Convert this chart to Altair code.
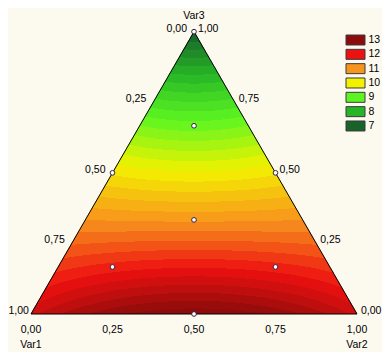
import numpy as np
import pandas as pd
import altair as alt

alt.data_transformers.disable_max_rows()

# ---- values ----
# design points (mixture proportions) and the response read at each of them
var1 = [1.0, 0.0, 0.0, 0.5, 0.5, 0.0, 2/3, 1/6, 1/6, 1/3]
var2 = [0.0, 1.0, 0.0, 0.5, 0.0, 0.5, 1/6, 2/3, 1/6, 1/3]
var3 = [0.0, 0.0, 1.0, 0.0, 0.5, 0.5, 1/6, 1/6, 2/3, 1/3]
response = [12.3, 12.3, 7.0, 13.1, 10.2, 10.2, 11.95, 11.95, 8.9, 11.0]
marker_shown = [False, False, True, True, True, True, True, True, True, True]

legend_levels = [13, 12, 11, 10, 9, 8, 7]
legend_colors = ["#8E0B0B", "#EE1111", "#F7941D", "#F2F200", "#5CF522", "#26B526", "#17632A"]
tick_values = [0.0, 0.25, 0.5, 0.75, 1.0]
tick_labels = ["0,00", "0,25", "0,50", "0,75", "1,00"]
axis_titles = ["Var1", "Var2", "Var3"]
band_step = 0.2

# ---- special cubic mixture model fitted to the design points ----
x1 = np.array(var1); x2 = np.array(var2); x3 = np.array(var3)
M = np.column_stack([x1, x2, x3, x1*x2, x1*x3, x2*x3, x1*x2*x3])
coef, *_ = np.linalg.lstsq(M, np.array(response), rcond=None)

def model(a, b, c):
    return (coef[0]*a + coef[1]*b + coef[2]*c + coef[3]*a*b + coef[4]*a*c
            + coef[5]*b*c + coef[6]*a*b*c)

S3 = np.sqrt(3.0)
H = S3 / 2
PX = 1 / 326.0

def to_uv(a, b, c):
    return b + c / 2, c * H

# ---- banded fill, as merged horizontal runs ----
cells = []
nrows = int(np.ceil(H / PX))
for j in range(nrows):
    v0 = j * PX
    v1 = min((j + 1) * PX, H)
    vc = (v0 + v1) / 2
    c = vc / H
    uL = vc / S3
    uR = 1 - vc / S3
    n = max(2, int((uR - uL) / (PX / 2)) + 1)
    us = np.linspace(uL, uR, n)
    b = us - c / 2
    a = 1 - b - c
    f = model(a, b, c)
    band = np.floor(f / band_step)
    start = 0
    top = v1 if j == nrows - 1 else v1 + 0.6 * PX
    for k in range(1, n + 1):
        if k == n or band[k] != band[start]:
            u_start = uL if start == 0 else (us[start - 1] + us[start]) / 2
            u_end = uR if k == n else (us[k - 1] + us[k]) / 2 + 0.6 * PX
            cells.append(dict(u=u_start, u2=u_end, v=v0, v2=top,
                              val=(band[start] + 0.5) * band_step))
            start = k
cells = pd.DataFrame(cells)

W, HH = 374, 344
xs = alt.Scale(domain=[-23 / 326, (W - 23) / 326], nice=False, zero=False)
ys = alt.Scale(domain=[-(HH - 306) / 326, 306 / 326], nice=False, zero=False)
cs = alt.Scale(domain=sorted(legend_levels),
               range=list(reversed(legend_colors)), clamp=True, interpolate="rgb")

fill = alt.Chart(cells).mark_rect(strokeWidth=0).encode(
    x=alt.X("u:Q", scale=xs, axis=None), x2="u2:Q",
    y=alt.Y("v:Q", scale=ys, axis=None), y2="v2:Q",
    color=alt.Color("val:Q", scale=cs, legend=None),
)

# triangle outline
verts = [(1, 0, 0), (0, 1, 0), (0, 0, 1), (1, 0, 0)]
outline = pd.DataFrame([dict(u=to_uv(*p)[0], v=to_uv(*p)[1], o=i) for i, p in enumerate(verts)])
edge = alt.Chart(outline).mark_line(color="black", strokeWidth=1).encode(
    x=alt.X("u:Q", scale=xs, axis=None), y=alt.Y("v:Q", scale=ys, axis=None), order="o:Q")

# design point markers
pts = pd.DataFrame([dict(u=to_uv(a, b, c)[0], v=to_uv(a, b, c)[1])
                    for a, b, c, s in zip(var1, var2, var3, marker_shown) if s])
markers = alt.Chart(pts).mark_point(shape="circle", filled=False, fill="white",
                                    fillOpacity=1, stroke="#33204A", strokeWidth=1,
                                    size=22, opacity=1).encode(
    x=alt.X("u:Q", scale=xs, axis=None), y=alt.Y("v:Q", scale=ys, axis=None))

FONT = "Liberation Sans"
FS = 10.5

def text_layer(df, align, dx, dy):
    return alt.Chart(df).mark_text(align=align, baseline="middle", dx=dx, dy=dy,
                                   font=FONT, fontSize=FS, color="black").encode(
        x=alt.X("u:Q", scale=xs, axis=None), y=alt.Y("v:Q", scale=ys, axis=None), text="t:N")

left = pd.DataFrame([dict(u=to_uv(t, 0, 1 - t)[0], v=to_uv(t, 0, 1 - t)[1], t=l)
                     for t, l in zip(tick_values[:-1], tick_labels[:-1])])
left_end = pd.DataFrame([dict(u=to_uv(1, 0, 0)[0], v=0.0, t=tick_labels[-1])])
right = pd.DataFrame([dict(u=to_uv(0, 1 - t, t)[0], v=to_uv(0, 1 - t, t)[1], t=l)
                      for t, l in zip(tick_values, tick_labels)])
bottom = pd.DataFrame([dict(u=to_uv(1 - t, t, 0)[0], v=to_uv(1 - t, t, 0)[1], t=l)
                       for t, l in zip(tick_values, tick_labels)])
tb = pd.DataFrame([dict(u=to_uv(1, 0, 0)[0], v=0.0, t=axis_titles[0]),
                   dict(u=to_uv(0, 1, 0)[0], v=0.0, t=axis_titles[1])])
tt = pd.DataFrame([dict(u=to_uv(0, 0, 1)[0], v=H, t=axis_titles[2])])

labels = (text_layer(left, "right", -7, -3) + text_layer(left_end, "left", -22.5, -3)
          + text_layer(right, "left", 4, -3)
          + text_layer(bottom, "center", 0, 16) + text_layer(tb, "center", 0, 31)
          + text_layer(tt, "center", 0, -16))

# legend (layout in page pixels converted to the plot's units)
def pu(px):
    return (px - 31) / 326.0

def pv(py):
    return (314 - py) / 326.0

leg = pd.DataFrame([dict(u=pu(346), u2=pu(365), v=pv(40 + 14.33 * i + 5), v2=pv(40 + 14.33 * i - 5),
                         tu=pu(368.5), tv=pv(40 + 14.33 * i), val=lv, t=str(lv))
                    for i, lv in enumerate(legend_levels)])
leg_boxes = alt.Chart(leg).mark_rect(stroke="#3A3A3A", strokeWidth=1).encode(
    x=alt.X("u:Q", scale=xs, axis=None), x2="u2:Q",
    y=alt.Y("v:Q", scale=ys, axis=None), y2="v2:Q",
    color=alt.Color("val:Q", scale=cs, legend=None))
leg_text = alt.Chart(leg).mark_text(align="left", baseline="middle", font=FONT,
                                    fontSize=FS, color="black").encode(
    x=alt.X("tu:Q", scale=xs, axis=None), y=alt.Y("tv:Q", scale=ys, axis=None), text="t:N")

chart = alt.layer(fill, edge, markers, labels, leg_boxes, leg_text).properties(
    width=W, height=HH, padding=0, autosize="none", background="#FCF9EF"
).configure_view(stroke=None)

chart.save("out.html", embed_options={"renderer": "svg", "actions": False})
